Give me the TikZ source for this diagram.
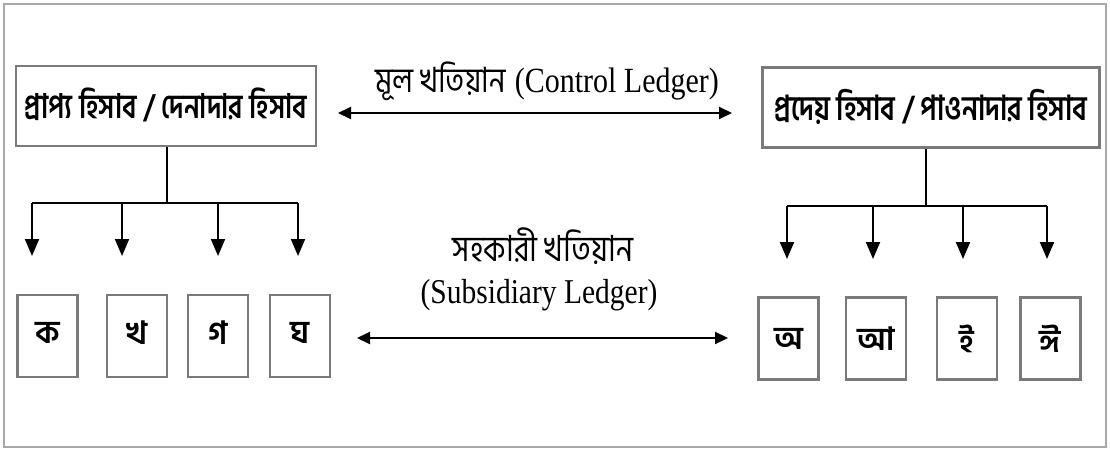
\documentclass[tikz,border=0pt]{standalone}
\usepackage{fontspec}
\setmainfont{Liberation Serif}
\newfontfamily\bn[Script=Bengali]{Hind Siliguri}
\usetikzlibrary{arrows.meta}
\definecolor{boxgray}{HTML}{7A7A7A}
\definecolor{framegray}{HTML}{A8A8A8}
\newcommand{\tallbn}[2]{\scalebox{1}[1.2]{\bn\fontsize{#1}{#1}\selectfont #2}}
\newcommand{\talllat}[2]{\scalebox{1}[1.18]{\fontsize{#1}{#1}\selectfont #2}}
\begin{document}
\begin{tikzpicture}[x=1pt,y=-1pt,
  topbox/.style={draw=boxgray,line width=2.5pt,minimum height=80pt,inner sep=0pt},
  leaf/.style={draw=boxgray,line width=2.5pt,minimum width=60pt,minimum height=82pt,inner sep=0pt,font=\bn\bfseries\fontsize{32}{34}\selectfont},
  conn/.style={line width=2pt},
  down/.style={conn,-{Triangle[length=17pt,width=14pt]}},
  both/.style={conn,{Triangle[length=13pt,width=12pt]}-{Triangle[length=13pt,width=12pt]}},
  lbl/.style={inner sep=0pt}
]
\useasboundingbox (0,0) rectangle (1110,450);
\draw[framegray,line width=2pt] (4,4) rectangle (1106,447);

% top boxes
\node[topbox,minimum width=300pt] (lt) at (166,106) {\raisebox{5pt}{\scalebox{1}[1.25]{\bn\bfseries\fontsize{27}{27}\selectfont প্রাপ্য হিসাব / দেনাদার হিসাব}}};
\node[topbox,minimum width=337pt] (rt) at (931,107.5) {\raisebox{5pt}{\scalebox{1}[1.25]{\bn\bfseries\fontsize{27.5}{28}\selectfont প্রদেয় হিসাব / পাওনাদার হিসাব}}};

% left tree
\coordinate (lbar) at (167,203);
\coordinate (lb1) at (32,203);
\coordinate (lb2) at (122,203);
\coordinate (lb3) at (218,203);
\coordinate (lb4) at (298,203);
\coordinate (la1) at (32,256);
\coordinate (la2) at (122,256);
\coordinate (la3) at (218,256);
\coordinate (la4) at (298,256);
\draw[conn] (lt.south -| lbar) -- (lbar);
\draw[conn] (lb1) -- (lb4);
\foreach \i in {1,2,3,4} \draw[down] (lb\i) -- (la\i);

% right tree
\coordinate (rbar) at (926,206);
\coordinate (rb1) at (787,206);
\coordinate (rb2) at (873,206);
\coordinate (rb3) at (963,206);
\coordinate (rb4) at (1047,206);
\coordinate (ra1) at (787,259);
\coordinate (ra2) at (873,259);
\coordinate (ra3) at (963,259);
\coordinate (ra4) at (1047,259);
\draw[conn] (rt.south -| rbar) -- (rbar);
\draw[conn] (rb1) -- (rb4);
\foreach \i in {1,2,3,4} \draw[down] (rb\i) -- (ra\i);

% leaf boxes
\node[leaf] (k1) at (47.5,336) {\raisebox{6pt}{ক}};
\node[leaf] (k2) at (137,336) {\raisebox{6pt}{খ}};
\node[leaf] (k3) at (218,336) {\raisebox{6pt}{গ}};
\node[leaf] (k4) at (300,336) {\raisebox{6pt}{ঘ}};
\node[leaf] (v1) at (788.5,338.5) {অ};
\node[leaf] (v2) at (876,338.5) {আ};
\node[leaf] (v3) at (967,338.5) {ই};
\node[leaf] (v4) at (1050.5,338.5) {ঈ};

% control ledger
\coordinate (ca) at (338,113);
\coordinate (cb) at (732,113);
\draw[both] (ca) -- (cb);
\node[lbl] (ctl) at (547,81) {\tallbn{29}{মূল খতিয়ান}\hspace{9pt}\talllat{30}{(Control Ledger)}};

% subsidiary ledger
\coordinate (sa) at (357,338);
\coordinate (sb) at (728,338);
\draw[both] (sa) -- (sb);
\node[lbl] (sub1) at (543,246) {\tallbn{30}{সহকারী খতিয়ান}};
\node[lbl] (sub2) at (539,295) {\talllat{29.5}{(Subsidiary Ledger)}};
\end{tikzpicture}
\end{document}
